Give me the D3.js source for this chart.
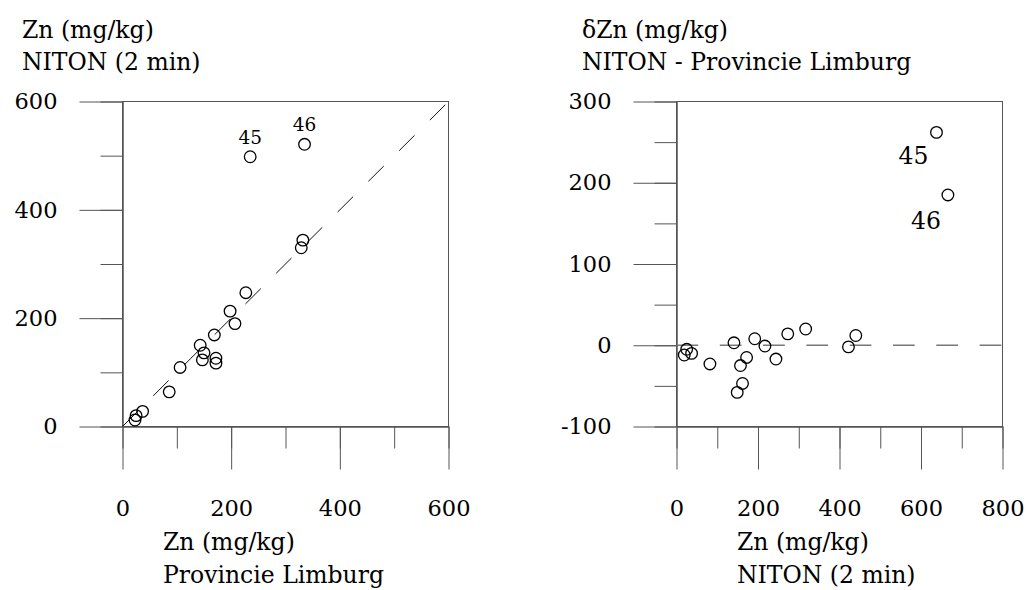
<!DOCTYPE html>
<html>
<head>
<meta charset="utf-8">
<script src="https://cdn.jsdelivr.net/npm/d3@7"></script>
<style>
  body { margin: 0; background: #fff; }
  .axis path, .axis line { stroke: #555; }
</style>
</head>
<body>
<div id="chart"></div>
<script>
// left panel: Provincie Limburg (x) vs NITON (y)
var ids = ["45", "46", "", "", "", "", "", "", "", "", "", "", "", "", "", "", "", ""];
var limburgZn = [235, 335, 332, 329, 227, 198, 207, 169, 143, 150, 147, 172, 172, 106, 86, 37, 25, 23];
var nitonZn   = [498, 521, 344, 330, 247, 213, 190, 169, 150, 136, 123, 126, 117, 109, 64, 28, 20, 12];

// right panel: NITON (x) vs difference (y)
var nitonX  = [638, 666, 440, 422, 317, 273, 244, 217, 192, 172, 157, 162, 149, 141, 82, 37, 25, 19];
var deltaZn = [262, 185, 12, -2, 20, 14, -17, -1, 8, -15, -25, -47, -58, 3, -23, -10, -5, -12];

var leftXTicks = [0, 200, 400, 600];
var leftYTicks = [0, 200, 400, 600];
var rightXTicks = [0, 200, 400, 600, 800];
var rightYTicks = [-100, 0, 100, 200, 300];

var FONT = "DejaVu Serif";
var FS = 23.5;     // titles
var TICK_FS = 22.5;

var W = 1027, H = 590;
var svg = d3.select("#chart").append("svg")
    .attr("width", W)
    .attr("height", H)
    .style("display", "block");

function minorTicks(domain, step) {
    return d3.range(domain[0], domain[1] + 0.001, step);
}

function label(x, y, txt) {
    svg.append("text")
        .attr("x", x).attr("y", y)
        .attr("font-family", FONT)
        .attr("font-size", FS)
        .attr("fill", "#000")
        .text(txt);
}

function drawPanel(opt) {
    var x = d3.scaleLinear().domain(opt.xDomain).range(opt.xRange);
    var y = d3.scaleLinear().domain(opt.yDomain).range(opt.yRange);
    var g = svg.append("g");

    // frame
    g.append("rect")
        .attr("x", opt.xRange[0]).attr("y", opt.yRange[1])
        .attr("width", opt.xRange[1] - opt.xRange[0])
        .attr("height", opt.yRange[0] - opt.yRange[1])
        .attr("fill", "none").attr("stroke", "#555");

    // minor ticks
    g.append("g").attr("class", "axis")
        .attr("transform", "translate(0," + opt.yRange[0] + ")")
        .call(d3.axisBottom(x).tickValues(minorTicks(opt.xDomain, opt.xStep)).tickSize(22).tickSizeOuter(0).tickFormat(""));
    g.append("g").attr("class", "axis")
        .attr("transform", "translate(" + opt.xRange[0] + ",0)")
        .call(d3.axisLeft(y).tickValues(minorTicks(opt.yDomain, opt.yStep)).tickSize(22).tickSizeOuter(0).tickFormat(""));

    // major ticks with labels
    var fmt = function(d) { return String(d); };
    var bx = g.append("g").attr("class", "axis")
        .attr("transform", "translate(0," + opt.yRange[0] + ")")
        .call(d3.axisBottom(x).tickValues(opt.xTicks).tickSize(43).tickSizeOuter(0).tickPadding(31).tickFormat(fmt));
    var ly = g.append("g").attr("class", "axis")
        .attr("transform", "translate(" + opt.xRange[0] + ",0)")
        .call(d3.axisLeft(y).tickValues(opt.yTicks).tickSize(43).tickSizeOuter(0).tickPadding(22).tickFormat(fmt));
    [bx, ly].forEach(function(a) {
        a.attr("font-family", FONT).attr("font-size", TICK_FS);
        a.selectAll("text").attr("fill", "#000");
    });

    return {g: g, x: x, y: y};
}

// ---------- left panel ----------
var L = drawPanel({
    xDomain: [0, 600], xRange: [122.5, 448.5], xStep: 100, xTicks: leftXTicks,
    yDomain: [0, 600], yRange: [426.5, 101.5], yStep: 100, yTicks: leftYTicks
});

L.g.append("line")
    .attr("x1", L.x(0)).attr("y1", L.y(0))
    .attr("x2", L.x(600)).attr("y2", L.y(600))
    .attr("stroke", "#111").attr("stroke-width", 1)
    .attr("stroke-dasharray", "21.7,21.7");

L.g.selectAll("circle.pt").data(limburgZn).join("circle")
    .attr("class", "pt")
    .attr("cx", function(d) { return L.x(d); })
    .attr("cy", function(d, i) { return L.y(nitonZn[i]); })
    .attr("r", 5.8)
    .attr("fill", "none").attr("stroke", "#000").attr("stroke-width", 1.3);

L.g.selectAll("text.lbl").data(ids.filter(function(d) { return d; })).join("text")
    .attr("class", "lbl")
    .attr("x", function(d, i) { return L.x(limburgZn[i]); })
    .attr("y", function(d, i) { return L.y(nitonZn[i]) - 13; })
    .attr("text-anchor", "middle")
    .attr("font-family", FONT)
    .attr("font-size", 18.5)
    .text(function(d) { return d; });

label(22, 38, "Zn (mg/kg)");
label(22, 70, "NITON (2 min)");
label(163, 550, "Zn (mg/kg)");
label(163, 583, "Provincie Limburg");

// ---------- right panel ----------
var R = drawPanel({
    xDomain: [0, 800], xRange: [676.5, 1002.5], xStep: 100, xTicks: rightXTicks,
    yDomain: [-100, 300], yRange: [426.5, 101.5], yStep: 50, yTicks: rightYTicks
});

R.g.append("line")
    .attr("x1", R.x(0)).attr("y1", R.y(0))
    .attr("x2", R.x(800)).attr("y2", R.y(0))
    .attr("stroke", "#777").attr("stroke-width", 1.3)
    .attr("stroke-dasharray", "21.7,21.6");

R.g.selectAll("circle.pt").data(nitonX).join("circle")
    .attr("class", "pt")
    .attr("cx", function(d) { return R.x(d); })
    .attr("cy", function(d, i) { return R.y(deltaZn[i]); })
    .attr("r", 5.8)
    .attr("fill", "none").attr("stroke", "#000").attr("stroke-width", 1.3);

var rightLblOffset = [[-8, 32], [-7, 34]];
R.g.selectAll("text.lbl").data(ids.filter(function(d) { return d; })).join("text")
    .attr("class", "lbl")
    .attr("x", function(d, i) { return R.x(nitonX[i]) + rightLblOffset[i][0]; })
    .attr("y", function(d, i) { return R.y(deltaZn[i]) + rightLblOffset[i][1]; })
    .attr("text-anchor", "end")
    .attr("font-family", FONT)
    .attr("font-size", 23.5)
    .text(function(d) { return d; });

label(582, 38, "δZn (mg/kg)");
label(582, 70, "NITON - Provincie Limburg");
label(737, 550, "Zn (mg/kg)");
label(737, 583, "NITON (2 min)");
</script>
</body>
</html>
